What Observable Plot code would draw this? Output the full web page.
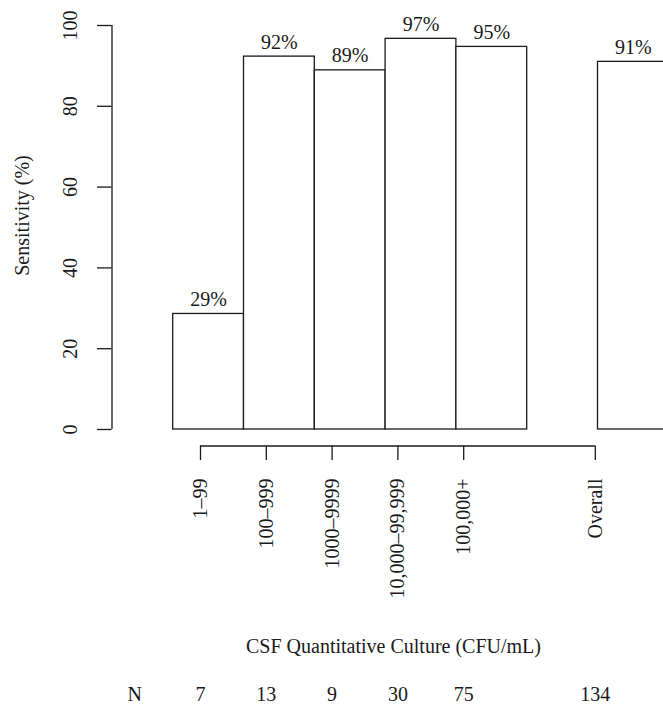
<!DOCTYPE html>
<html>
<head>
<meta charset="utf-8">
<script src="https://cdn.jsdelivr.net/npm/d3@7"></script>
<script src="https://cdn.jsdelivr.net/npm/@observablehq/plot@0.6"></script>
<style>
  html, body { margin: 0; padding: 0; background: #fff; }
</style>
</head>
<body>
<script>
// ---- data ----
const categories = ["1\u201399", "100\u2013999", "1000\u20139999", "10,000\u201399,999", "100,000+", "Overall"];
const sensitivity = [28.6, 92.3, 88.9, 96.7, 94.7, 91.0];
const nCounts = [7, 13, 9, 30, 75, 134];
const yTicks = [0, 20, 40, 60, 80, 100];
const yTitle = "Sensitivity (%)";
const xTitle = "CSF Quantitative Culture (CFU/mL)";
const nLabel = "N";

// ---- layout (pixels) ----
const W = 663, H = 705;
const barOriginPx = 172.7, barUnitPx = 70.8;   // left edge of first bar, bar width
const yZeroPx = 429, yTopPx = 25;              // y=0 and y=100
const pxPerUnit = (yZeroPx - yTopPx) / 100;
const px2u = p => (p - barOriginPx) / barUnitPx;
const py2v = p => (yZeroPx - p) / pxPerUnit;

const spineU = px2u(111.5), tickEndU = px2u(97), yLabU = px2u(70), yTitleU = px2u(22);
const lowAxisV = py2v(445.5), lowTickV = py2v(460), lowLabV = py2v(478);
const lowOriginU = px2u(200), lowStepU = 65.8 / barUnitPx;
const xTitleV = py2v(652), nRowV = py2v(700);

// slot: five bins side by side, a one-bar gap, then Overall
const rows = categories.map((c, i) => {
  const slot = i < categories.length - 1 ? i : i + 1;
  return {
    cat: c,
    value: sensitivity[i],
    n: nCounts[i],
    pct: Math.round(sensitivity[i]) + "%",
    slot,
    low: lowOriginU + slot * lowStepU
  };
});
const ink = "#1a1a1a";

const chart = Plot.plot({
  width: W,
  height: H,
  marginTop: 0, marginRight: 0, marginBottom: 0, marginLeft: 0,
  x: { type: "linear", domain: [px2u(0), px2u(W)], range: [0, W], axis: null },
  y: { type: "linear", domain: [0, 100], range: [yZeroPx, yTopPx], axis: null },
  style: { fontFamily: "'Liberation Serif', 'Times New Roman', serif", fontSize: "20px", color: ink, background: "#fff" },
  marks: [
    // bars
    Plot.rectY(rows, { x1: d => d.slot, x2: d => d.slot + 1, y1: 0, y2: "value", fill: "white", stroke: ink, strokeWidth: 1.3 }),
    // percent labels
    Plot.text(rows, { x: d => d.slot + 0.5, y: "value", text: "pct", dy: -8, lineAnchor: "bottom", fill: ink, fontSize: 20 }),
    // y axis
    Plot.ruleX([spineU], { y1: 0, y2: 100, stroke: ink, strokeWidth: 1.3 }),
    Plot.ruleY(yTicks, { y: d => d, x1: tickEndU, x2: spineU, stroke: ink, strokeWidth: 1.3 }),
    Plot.text(yTicks, { x: yLabU, y: d => d, text: d => String(d), rotate: -90, fill: ink, fontSize: 20 }),
    Plot.text([yTitle], { x: yTitleU, y: py2v(215), text: d => d, rotate: -90, fill: ink, fontSize: 20 }),
    // lower category axis
    Plot.ruleY([lowAxisV], { x1: rows[0].low, x2: rows[rows.length - 1].low, stroke: ink, strokeWidth: 1.3 }),
    Plot.ruleX(rows, { x: "low", y1: lowAxisV, y2: lowTickV, stroke: ink, strokeWidth: 1.3 }),
    Plot.text(rows, { x: "low", y: lowLabV, text: "cat", rotate: -90, textAnchor: "end", lineAnchor: "middle", fill: ink, fontSize: 20 }),
    // x title
    Plot.text([xTitle], { x: px2u(393), y: xTitleV, text: d => d, lineAnchor: "bottom", fill: ink, fontSize: 20 }),
    // N row
    Plot.text(rows, { x: "low", y: nRowV, text: d => String(d.n), lineAnchor: "bottom", fill: ink, fontSize: 20 }),
    Plot.text([nLabel], { x: lowOriginU - lowStepU, y: nRowV, text: d => d, lineAnchor: "bottom", fill: ink, fontSize: 20 })
  ]
});
document.body.appendChild(chart);
</script>
</body>
</html>
